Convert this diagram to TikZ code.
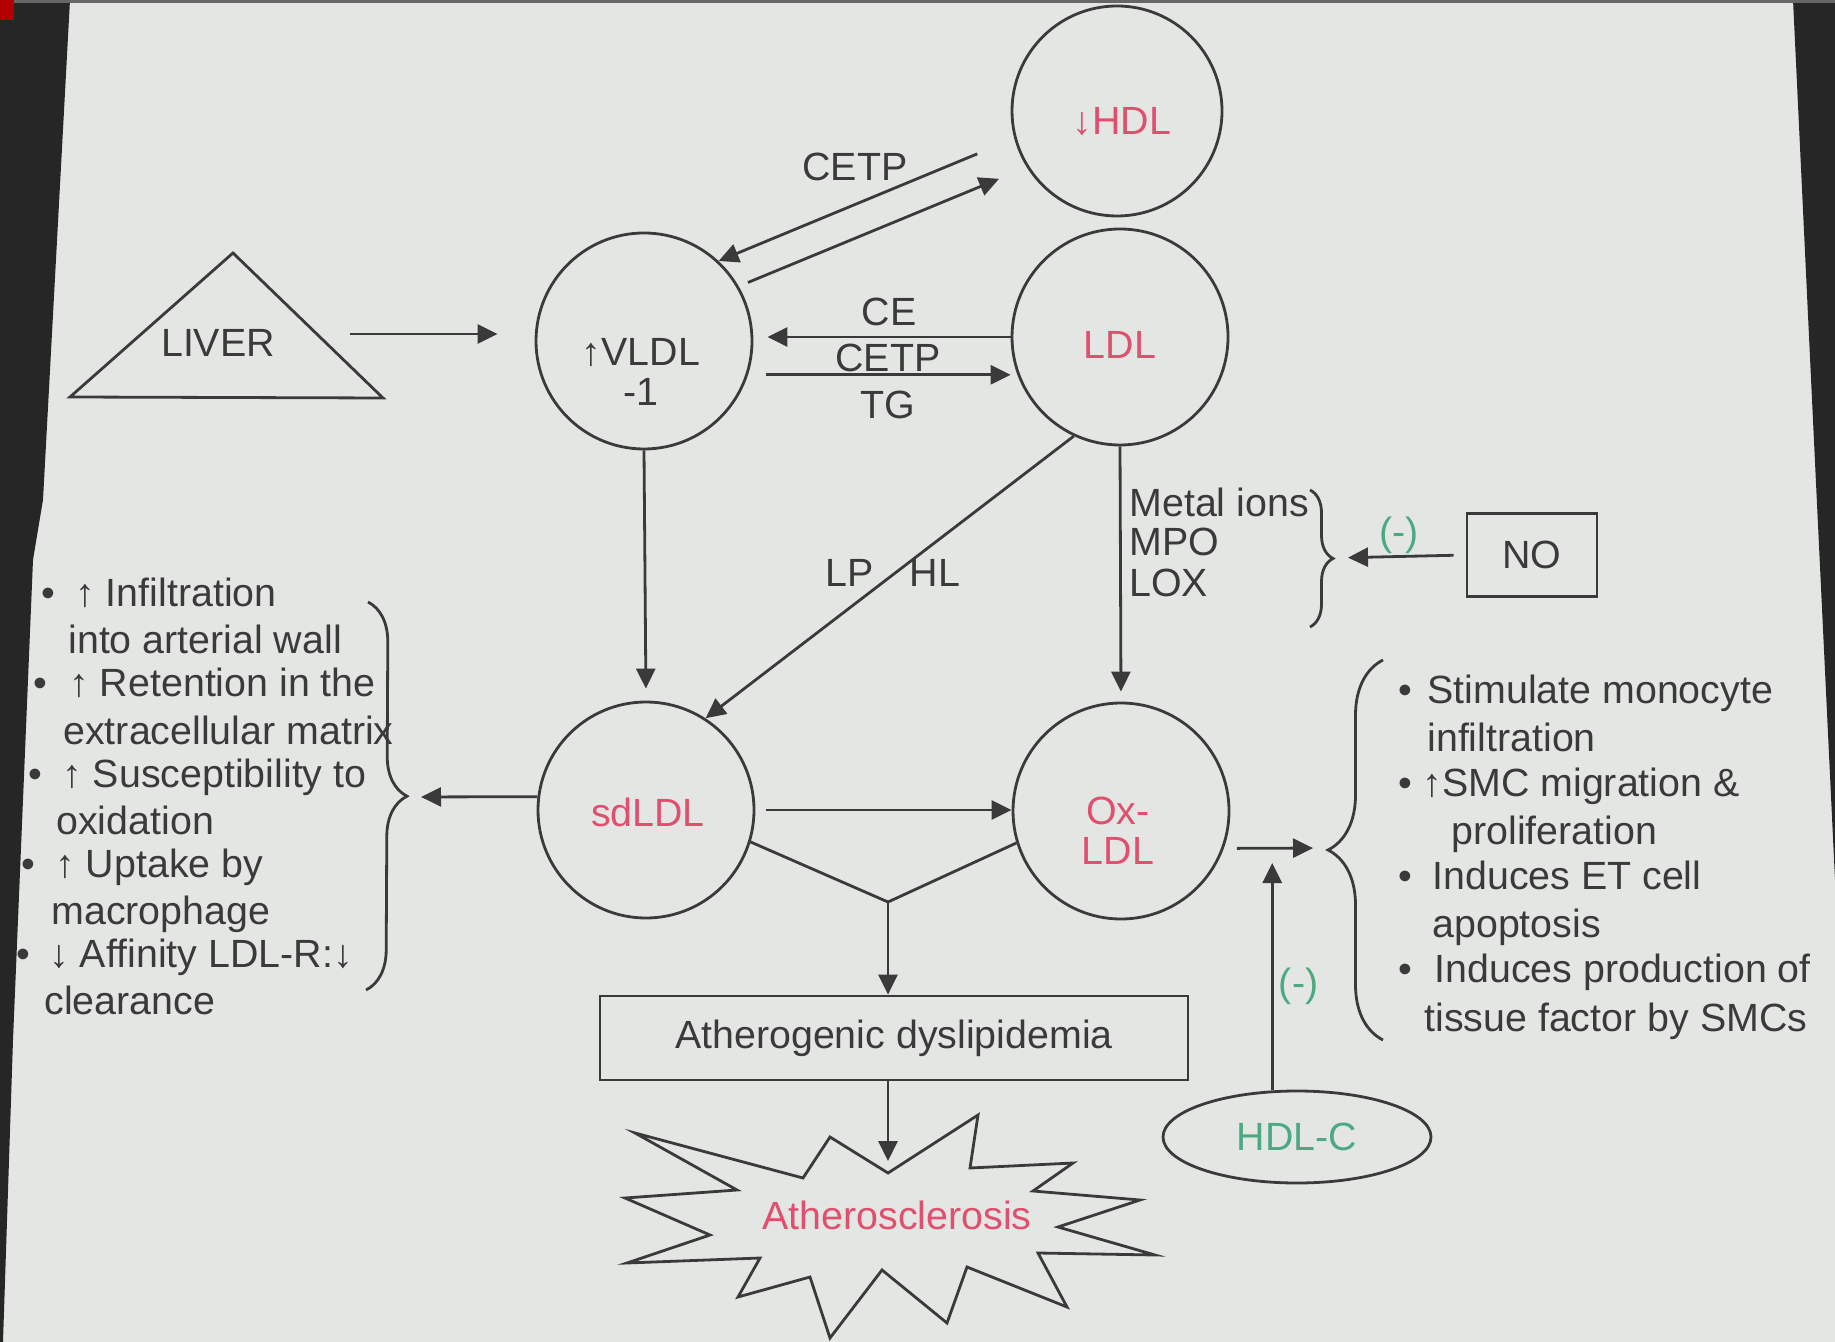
\documentclass[tikz,border=0pt]{standalone}
\usepackage{fontspec}
\setmainfont{Liberation Sans}
\usetikzlibrary{arrows.meta,positioning,calc,shapes.geometric,decorations.pathreplacing}
\definecolor{slide}{HTML}{E4E6E4}
\definecolor{ink}{HTML}{3A3A3A}
\definecolor{lipored}{HTML}{E0506E}
\definecolor{inhib}{HTML}{4DAA80}

\begin{document}
\begin{tikzpicture}[x=0.1mm, y=-0.1mm, color=ink, line width=0.28mm,
  font=\fontsize{11.2}{13}\selectfont,
  lipo/.style={circle, draw, minimum size=21.6mm, inner sep=0pt},
  lipotxt/.style={text=lipored, align=center, inner sep=0pt},
  arr/.style={-{Triangle[length=2mm, width=1.9mm]}},
  txt/.style={anchor=base west, inner sep=0pt},
  inhibtxt/.style={text=inhib, inner sep=1.5pt}]
  \useasboundingbox (0,0) rectangle (1835,1342);

  % The slide and the dark edges of the photo
  \fill[slide] (0,0) rectangle (1835,1342);
  \fill[black!85] (0,0) -- (70,0) -- (43,500) -- (33,560) -- (13,1040) -- (3,1342) -- (0,1342) -- cycle;
  \fill[black!85] (1793,0) -- (1835,0) -- (1835,880) -- (1812,400) -- cycle;
  \fill[black!60] (0,0) rectangle (1835,3);
  \fill[red!70!black] (0,0) rectangle (14,20);

  % Lipoproteins
  \node[lipo, minimum size=21mm] (hdl) at (1117,111) {};
  \node[lipo] (ldl) at (1120,337) {};
  \node[lipo] (vldl) at (644,341) {};
  \node[lipo] (sdldl) at (646,810) {};
  \node[lipo] (oxldl) at (1121,811) {};
  \node[lipotxt] (hdltxt) at (1122,122) {↓HDL};
  \node[lipotxt] (ldltxt) at (1120,345) {LDL};
  \node[lipotxt, text=ink] (vldltxt) at (641,372) {↑VLDL\\[-1.5pt]-1};
  \node[lipotxt] (sdldltxt) at (648,812) {sdLDL};
  \node[lipotxt] (oxldltxt) at (1118,831) {Ox-\\[-1.5pt]LDL};

  % Liver
  \draw (233,253) -- (383,398) -- (70,397) -- cycle;
  \node (liver) at (218,343) {LIVER};
  \draw[arr, shorten <=6.2mm, shorten >=3.7mm] ([yshift=0.9mm]liver.east) -- ([yshift=0.9mm]liver.east -| vldl.west);

  % Exchanges between the particles
  \draw[arr, shorten <=4mm] (hdl.195) -- (vldl.47);
  \draw[arr, shorten <=1mm, shorten >=3mm] (vldl.30) -- (hdl.212);
  \node (cetpa) at (855,167) {CETP};
  \draw[arr, shorten >=1.4mm] (ldl.west) -- (ldl.west -| vldl.east);
  \draw[arr, shorten <=1.8mm] (vldl.-18) -- (vldl.-18 -| ldl.west);
  \node (ce) at (889,312) {CE};
  \node (cetpb) at (888,358) {CETP};
  \node (tg) at (888,405) {TG};

  % Towards sdLDL and Ox-LDL
  \draw[arr, shorten >=1.2mm] (vldl.south) -- (sdldl.north);
  \draw[arr] (ldl.245) -- (sdldl.57);
  \node (lphl) at (893,573) {LP\hspace{3.6mm}HL};
  \draw[arr, shorten >=1mm] (ldl.south) -- (oxldl.north);
  \draw[arr, shorten <=1.1mm] (sdldl.east) -- (sdldl.east -| oxldl.west);

  % Oxidising agents and NO
  \foreach \yy/\agent in {517/{Metal ions}, 556/MPO, 597/LOX}
    \node[txt] (agent\yy) at (1128,\yy) {\agent};
  \draw[decorate, decoration={brace, amplitude=2.3mm}] (1310,490) -- (1310,627);
  \coordinate (mbrace) at (1333,558);
  \node[draw, minimum width=13mm, minimum height=8.3mm] (no) at (1532,555) {NO};
  \draw[arr, shorten <=1.2mm, shorten >=1.5mm] (no.west) -- (mbrace)
    node[midway, above, inhibtxt, inner sep=0.4pt] {(-)};

  % Atherogenic dyslipidemia
  \coordinate (junc) at (888,902);
  \draw (sdldl.-17) -- (junc) -- (oxldl.197);
  \node[draw, minimum width=58.8mm, minimum height=8.4mm] (dys) at (894,1038) {Atherogenic dyslipidemia};
  \draw[arr] (junc) -- (junc |- dys.north);
  \coordinate (notch) at (888,1173);
  \draw[arr, shorten >=1.2mm] (junc |- dys.south) -- (notch);

  % Atherosclerosis
  \draw[line join=miter] (978,1115) -- (970,1168) -- (1073,1163) -- (1033,1191) -- (1140,1200)
    -- (1058,1227) -- (1155,1255) -- (1038,1253) -- (1067,1307) -- (967,1267) -- (947,1323)
    -- (882,1270) -- (830,1338) -- (810,1277) -- (738,1297) -- (760,1258) -- (627,1263)
    -- (710,1235) -- (625,1198) -- (737,1190) -- (635,1133) -- (803,1178) -- (830,1137)
    -- (notch) -- cycle;
  \node[text=lipored] (athero) at (897,1215) {Atherosclerosis};

  % Effects of sdLDL
  \coordinate (lbrace) at (408,797);
  \draw[decorate, decoration={brace, amplitude=4mm}] (368,602) -- (366,990);
  \draw[arr, shorten >=1.3mm] (sdldl.173) -- (lbrace);
  \foreach \xx/\yy in {40/607, 32/697, 27/787, 20/877, 15/967}
    \node[txt] (lbul\yy) at (\xx,\yy) {•};
  \foreach \xx/\yy/\line in {74/607/{↑ Infiltration}, 67/654/{into arterial wall},
      68/697/{↑ Retention in the}, 62/744/{extracellular matrix},
      61/787/{↑ Susceptibility to}, 55/834/{oxidation},
      54/877/{↑ Uptake by}, 50/924/{macrophage},
      48/967/{↓ Affinity LDL-R:↓}, 43/1014/{clearance}}
    \node[txt] (leff\yy) at (\xx,\yy) {\line};

  % Effects of Ox-LDL
  \coordinate (rbrace) at (1328,848);
  \draw[decorate, decoration={brace, amplitude=5.5mm}] (1383,1040) -- (1383,660);
  \draw[arr, shorten <=1.3mm, shorten >=1.5mm] (oxldl.-20) -- (rbrace);
  \foreach \yy in {704, 796, 889, 982}
    \node[txt] (rbul\yy) at (1397,\yy) {•};
  \foreach \xx/\yy/\line in {1426/704/{Stimulate monocyte}, 1426/751/{infiltration},
      1421/796/{↑SMC migration \&}, 1450/844/{proliferation},
      1431/889/{Induces ET cell}, 1431/937/{apoptosis},
      1433/982/{Induces production of}, 1423/1031/{tissue factor by SMCs}}
    \node[txt] (reff\yy) at (\xx,\yy) {\line};

  % HDL-C
  \node[ellipse, draw, text=inhib, minimum width=26.8mm, minimum height=9.2mm] (hdlc) at (1297,1137) {HDL-C};
  \draw[arr, shorten >=1.5mm] (hdlc.118) -- (hdlc.118 |- rbrace)
    node[pos=0.43, right, inhibtxt] {(-)};
\end{tikzpicture}
\end{document}
